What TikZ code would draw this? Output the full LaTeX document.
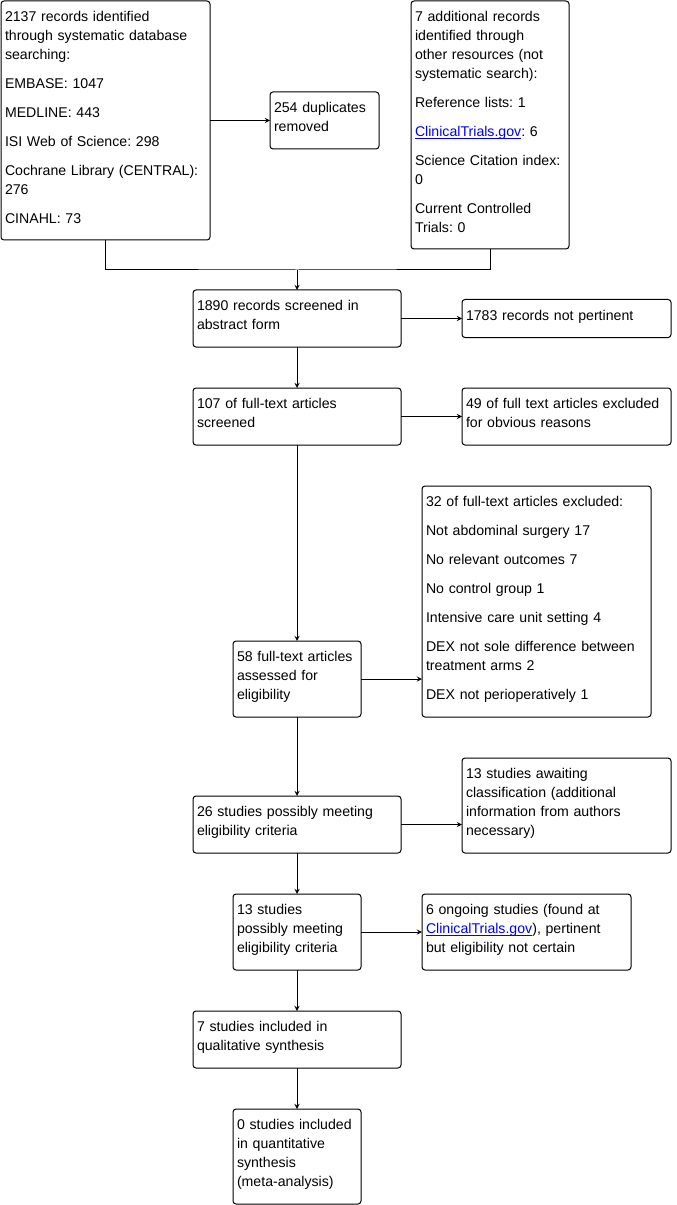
\documentclass[tikz,border=0pt]{standalone}
\usepackage{xcolor}
\usepackage{fontspec}
\setmainfont{Liberation Sans}
\usepackage{tikz}
\usetikzlibrary{arrows, positioning}

\frenchspacing
\definecolor{linkblue}{RGB}{0,0,238}
\newcommand{\trialslink}{\textcolor{linkblue}{\setbox0\hbox{ClinicalTrials.gov}\rlap{\rule[-1.6pt]{\wd0}{0.6pt}}\box0}}

\begin{document}
\begin{tikzpicture}[
    x=0.75pt, y=-0.75pt,
    line width=0.75pt,
    font=\fontsize{10.6pt}{14.25pt}\selectfont,
    box/.style={rectangle, draw, rounded corners=2.25pt, align=left, inner xsep=3pt, inner ysep=3pt, outer sep=0pt, text height=12.7pt},
    wide/.style={box, text width=150pt, text depth=24.05pt},
    side/.style={box, text width=150.75pt, text depth=24.05pt},
    narrow/.style={box, text width=90pt, text depth=38.3pt},
    arrow/.style={->,>=stealth}
]
    \useasboundingbox (0,0) rectangle (677,1205);

    \node [box, anchor=north west, text width=150.75pt, text depth=160.55pt] (search) at (1,1)
        {2137 records identified\\through systematic database\\searching:\\[7.5pt]
         EMBASE: 1047\\[7.5pt]MEDLINE: 443\\[7.5pt]ISI Web of Science: 298\\[7.5pt]
         Cochrane Library (CENTRAL):\\276\\[7.5pt]CINAHL: 73};
    \node [box, text width=75.75pt, text depth=24.05pt, right=45pt of search] (dupl)
        {254 duplicates\\removed};
    \node [box, text width=112.5pt, text depth=167.3pt, right=150.75pt of search.north east, anchor=north west] (other)
        {7 additional records\\identified through\\other resources (not\\systematic search):\\[7.5pt]
         Reference lists: 1\\[7.5pt]\trialslink: 6\\[7.5pt]Science Citation index:\\0\\[7.5pt]
         Current Controlled\\Trials: 0};

    \node [wide, anchor=north] (screen) at (297,290) {1890 records screened in\\abstract form};
    \coordinate [above=15pt of screen] (join);
    \node [wide, below=30.75pt of screen] (fulltext) {107 of full-text articles\\screened};
    \node [narrow, below=147pt of fulltext] (assess) {58 full-text articles\\assessed for\\eligibility};
    \node [wide, below=59.25pt of assess] (possible) {26 studies possibly meeting\\eligibility criteria};
    \node [narrow, below=30.75pt of possible] (meeting) {13 studies\\possibly meeting\\eligibility criteria};
    \node [wide, below=30.75pt of meeting] (quali) {7 studies included in\\qualitative synthesis};
    \node [narrow, text depth=52.55pt, below=30.75pt of quali] (quanti)
        {0 studies included\\in quantitative\\synthesis\\(meta-analysis)};

    \node [side, text depth=9.8pt, right=45.75pt of screen] (notpert) {1783 records not pertinent};
    \node [side, right=45.75pt of fulltext] (obvious) {49 of full text articles excluded\\for obvious reasons};
    \node [box, text width=165.75pt, text depth=154.55pt, right=45.75pt of assess.south east, anchor=south west] (excluded)
        {32 of full-text articles excluded:\\[7.5pt]Not abdominal surgery 17\\[7.5pt]
         No relevant outcomes 7\\[7.5pt]No control group 1\\[7.5pt]Intensive care unit setting 4\\[7.5pt]
         DEX not sole difference between\\treatment arms 2\\[7.5pt]DEX not perioperatively 1};
    \node [side, text depth=52.55pt, right=45.75pt of possible.south east, anchor=south west] (awaiting)
        {13 studies awaiting\\classification (additional\\information from authors\\necessary)};
    \node [side, text depth=38.3pt, right=45.75pt of meeting] (ongoing)
        {6 ongoing studies (found at\\\trialslink), pertinent\\but eligibility not certain};

    % merge both sources into screening
    \draw (search.south) |- (join) -| (other.south);
    \draw [arrow] (join) -- (screen);
    \draw [arrow] (search) -- (dupl);
    \draw [arrow] (screen) -- (fulltext);
    \draw [arrow] (fulltext) -- (assess);
    \draw [arrow] (assess) -- (possible);
    \draw [arrow] (possible) -- (meeting);
    \draw [arrow] (meeting) -- (quali);
    \draw [arrow] (quali) -- (quanti);
    \draw [arrow] (screen) -- (notpert);
    \draw [arrow] (fulltext) -- (obvious);
    \draw [arrow] (assess.east) -- (assess.east -| excluded.west);
    \draw [arrow] (possible.east) -- (possible.east -| awaiting.west);
    \draw [arrow] (meeting) -- (ongoing);
\end{tikzpicture}
\end{document}
